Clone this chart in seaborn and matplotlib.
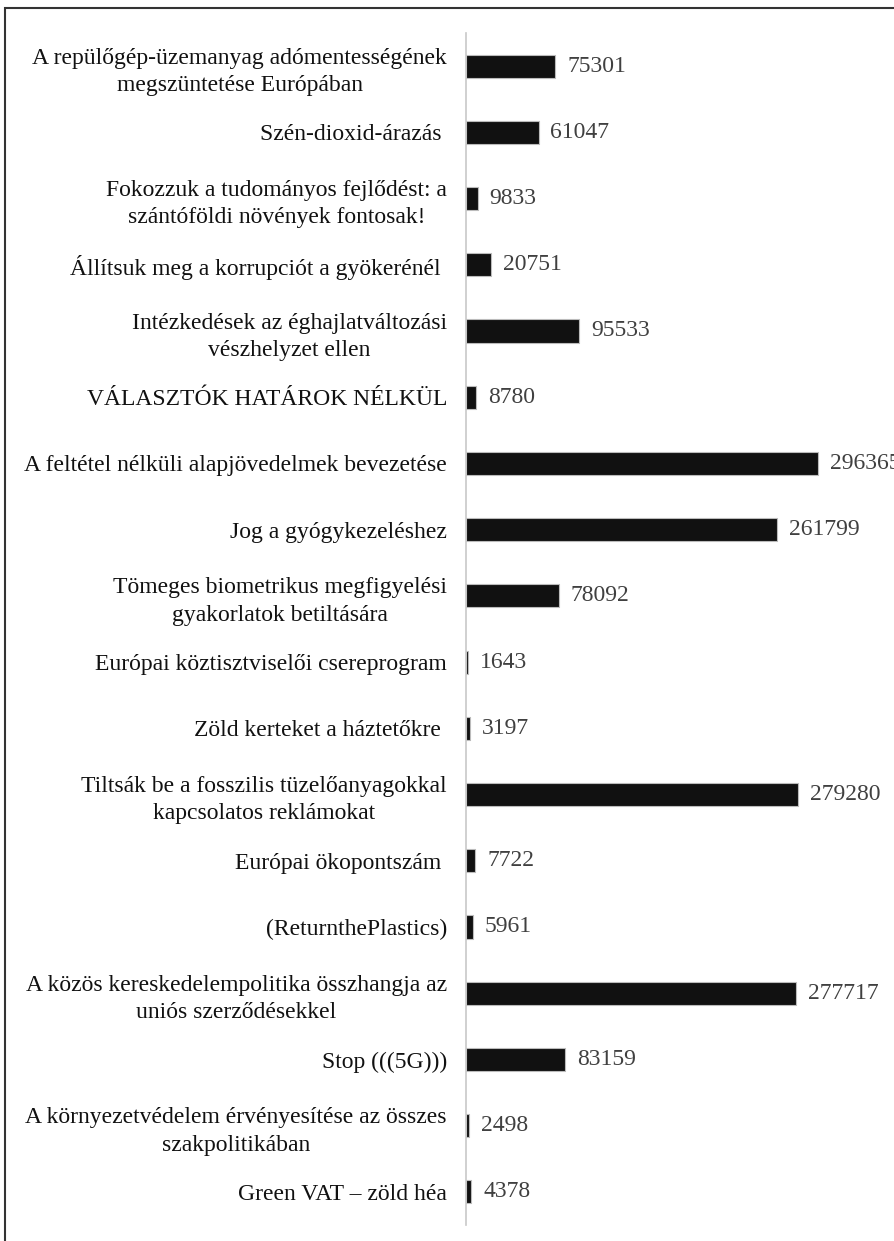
import matplotlib
matplotlib.use("Agg")
import matplotlib.pyplot as plt
import seaborn as sns
import pandas as pd
from matplotlib.patches import Rectangle

labels = [
    "A repülőgép-üzemanyag adómentességének\nmegszüntetése Európában",
    "Szén-dioxid-árazás ",
    "Fokozzuk a tudományos fejlődést: a\nszántóföldi növények fontosak!",
    "Állítsuk meg a korrupciót a gyökerénél ",
    "Intézkedések az éghajlatváltozási\nvészhelyzet ellen",
    "VÁLASZTÓK HATÁROK NÉLKÜL",
    "A feltétel nélküli alapjövedelmek bevezetése",
    "Jog a gyógykezeléshez",
    "Tömeges biometrikus megfigyelési\ngyakorlatok betiltására",
    "Európai köztisztviselői csereprogram",
    "Zöld kerteket a háztetőkre ",
    "Tiltsák be a fosszilis tüzelőanyagokkal\nkapcsolatos reklámokat",
    "Európai ökopontszám ",
    "(ReturnthePlastics)",
    "A közös kereskedelempolitika összhangja az\nuniós szerződésekkel",
    "Stop (((5G)))",
    "A környezetvédelem érvényesítése az összes\nszakpolitikában",
    "Green VAT – zöld héa",
]
values = [75301, 61047, 9833, 20751, 95533, 8780, 296365, 261799, 78092,
          1643, 3197, 279280, 7722, 5961, 277717, 83159, 2498, 4378]

df = pd.DataFrame({"label": labels, "value": values})

sns.set_style("white")
plt.rcParams["font.family"] = ["Liberation Serif", "DejaVu Serif"]

fig = plt.figure(figsize=(8.95, 12.41), dpi=100)
ax = fig.add_axes([466 / 895, 16 / 1241, 429 / 895, 1192 / 1241])

sns.barplot(data=df, y="label", x="value", orient="h", color="#111111",
            edgecolor="#bbbbbb", linewidth=0.8, width=0.35, saturation=1, ax=ax)

ax.set_xlim(0, 361200)
ax.set_ylim(17.5, -0.5)
ax.set_xlabel("")
ax.set_ylabel("")
ax.set_xticks([])
ax.tick_params(axis="y", length=0, pad=13.7, labelsize=17)
for t in ax.get_yticklabels():
    t.set_multialignment("center")
    t.set_linespacing(1.4)
    t.set_color("#111111")
for s in ["top", "right", "bottom"]:
    ax.spines[s].set_visible(False)
ax.spines["left"].set_color("#c8c8c8")
ax.spines["left"].set_linewidth(1.2)

for i, v in enumerate(values):
    ax.text(v + 10000, i, f"{v}", va="center", ha="left", fontsize=17,
            color="#404040", clip_on=False)

fig.patches.append(Rectangle((5 / 895, -0.01), 1.0, 1 - 8 / 1241 + 0.01,
                             transform=fig.transFigure, fill=False,
                             edgecolor="#333333", linewidth=1.5))

fig.savefig("out.png", dpi=100)
